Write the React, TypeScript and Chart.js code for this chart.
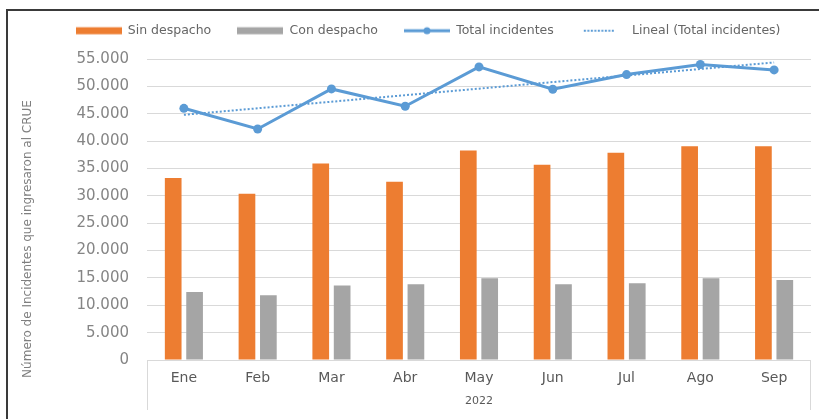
import React, { useEffect, useRef } from 'react';
import { Chart, registerables } from 'chart.js';

Chart.register(...registerables);

// Incidentes mensuales que ingresaron al CRUE, 2022
const meses = ['Ene', 'Feb', 'Mar', 'Abr', 'May', 'Jun', 'Jul', 'Ago', 'Sep'];
const anio = '2022';
const sinDespacho = [33250, 30380, 35920, 32570, 38300, 35690, 37880, 39040, 39040];
const conDespacho = [12440, 11830, 13600, 13850, 14950, 13850, 14030, 14950, 14640];
const totalIncidentes = [45990, 42210, 49530, 46360, 53560, 49470, 52150, 53990, 53010];
const ejeY = { min: 0, max: 55000, paso: 5000 };
const tituloY = 'Número de Incidentes que ingresaron al CRUE';

const NARANJA = '#ED7D31';
const GRIS = '#A5A5A5';
const AZUL = '#5B9BD5';
const FUENTE = '"DejaVu Sans", sans-serif';

// Tendencia lineal por mínimos cuadrados
function tendenciaLineal(valores: number[]): number[] {
  const n = valores.length;
  const mx = (n - 1) / 2;
  const my = valores.reduce((a, b) => a + b, 0) / n;
  let sxy = 0;
  let sxx = 0;
  valores.forEach((v, i) => {
    sxy += (i - mx) * (v - my);
    sxx += (i - mx) * (i - mx);
  });
  const m = sxy / sxx;
  return valores.map((_, i) => my + m * (i - mx));
}

const miles = (v: number) => String(v).replace(/\B(?=(\d{3})+(?!\d))/g, '.');

function icono(dibujar: (ctx: CanvasRenderingContext2D) => void): HTMLCanvasElement {
  const c = document.createElement('canvas');
  c.width = 46;
  c.height = 10;
  const ctx = c.getContext('2d')!;
  dibujar(ctx);
  return c;
}

const marcoEje = {
  id: 'marcoEje',
  afterDraw(chart: any) {
    const { ctx, chartArea } = chart;
    const xs = chart.scales.x;
    ctx.save();
    ctx.strokeStyle = '#D9D9D9';
    ctx.lineWidth = 1;
    ctx.beginPath();
    ctx.moveTo(chartArea.left + 0.5, chartArea.bottom);
    ctx.lineTo(chartArea.left + 0.5, xs.bottom - 9);
    ctx.moveTo(chartArea.right - 0.5, chartArea.bottom);
    ctx.lineTo(chartArea.right - 0.5, xs.bottom - 9);
    ctx.stroke();
    ctx.translate(28, (chartArea.top + xs.bottom) / 2);
    ctx.rotate(-Math.PI / 2);
    ctx.font = `12px ${FUENTE}`;
    ctx.fillStyle = '#7f7f7f';
    ctx.textAlign = 'center';
    ctx.textBaseline = 'middle';
    ctx.fillText(tituloY, 0, 0);
    ctx.restore();
  },
};

export default function App() {
  const ref = useRef<HTMLCanvasElement | null>(null);

  useEffect(() => {
    if (!ref.current) return;
    const iconos = [
      icono((c) => { c.fillStyle = NARANJA; c.fillRect(0, 1.5, 46, 7); }),
      icono((c) => { c.fillStyle = GRIS; c.fillRect(0, 1.5, 46, 7); }),
      icono((c) => {
        c.strokeStyle = AZUL; c.lineWidth = 3;
        c.beginPath(); c.moveTo(0, 5); c.lineTo(46, 5); c.stroke();
        c.fillStyle = AZUL; c.beginPath(); c.arc(23, 5, 3.5, 0, Math.PI * 2); c.fill();
      }),
      icono((c) => {
        c.fillStyle = AZUL;
        for (let x = 4; x < 34; x += 3.5) c.fillRect(x, 4, 2, 2);
      }),
    ];

    const chart = new Chart(ref.current, {
      type: 'bar',
      data: {
        labels: meses,
        datasets: [
          { type: 'bar', label: 'Sin despacho', data: sinDespacho, backgroundColor: NARANJA, borderWidth: 0, categoryPercentage: 0.58, barPercentage: 0.78 },
          { type: 'bar', label: 'Con despacho', data: conDespacho, backgroundColor: GRIS, borderWidth: 0, categoryPercentage: 0.58, barPercentage: 0.78 },
          { type: 'line', label: 'Total incidentes', data: totalIncidentes, borderColor: AZUL, backgroundColor: AZUL, borderWidth: 3, pointRadius: 4.5, pointBackgroundColor: AZUL, pointBorderWidth: 0, tension: 0 },
          { type: 'line', label: 'Lineal (Total incidentes)', data: tendenciaLineal(totalIncidentes), borderColor: AZUL, backgroundColor: AZUL, borderWidth: 2, borderDash: [2, 2], pointRadius: 0, tension: 0 },
        ] as any,
      },
      options: {
        responsive: false,
        maintainAspectRatio: false,
        devicePixelRatio: 1,
        animation: false,
        layout: { padding: { left: 45, right: 8, top: -1.5, bottom: 0 } },
        plugins: {
          tooltip: { enabled: false },
          legend: {
            position: 'top',
            weight: 3000,
            labels: {
              usePointStyle: true,
              pointStyleWidth: 46,
              padding: 26,
              color: '#666666',
              font: { family: FUENTE, size: 12.5 },
              generateLabels: (ch: any) =>
                (Chart.defaults.plugins.legend.labels.generateLabels as any)(ch).map((it: any, i: number) => ({ ...it, pointStyle: iconos[i] })),
            },
          } as any,
          title: { display: true, text: '', padding: 0, font: { size: 12, lineHeight: 1 } },
        },
        scales: {
          x: {
            grid: { display: false, drawTicks: false },
            border: { display: false },
            ticks: { padding: 10, color: '#595959', font: { family: FUENTE, size: 14 } },
            title: { display: true, text: anio, color: '#595959', font: { family: FUENTE, size: 11 }, padding: { top: 0, bottom: 11 } },
            afterFit: (s: any) => { s.height = 59; },
          },
          y: {
            min: ejeY.min,
            max: ejeY.max,
            ticks: { stepSize: ejeY.paso, padding: 18, color: '#858585', font: { family: FUENTE, size: 15 }, callback: (v: any) => miles(Number(v)) },
            grid: { color: '#D9D9D9', drawTicks: false, lineWidth: 1 },
            border: { display: false },
            afterFit: (s: any) => { s.width = 102; },
          },
        },
      } as any,
      plugins: [marcoEje],
    });
    return () => chart.destroy();
  }, []);

  return (
    <div style={{ position: 'fixed', left: 0, top: 0, width: 819, height: 419, background: '#fff', overflow: 'hidden' }}>
      <div style={{ position: 'absolute', left: 6, top: 9, width: 830, height: 430, borderLeft: '2px solid #3a3a3a', borderTop: '2px solid #3a3a3a' }} />
      <canvas ref={ref} width={819} height={419} style={{ position: 'absolute', left: 0, top: 0 }} />
    </div>
  );
}
